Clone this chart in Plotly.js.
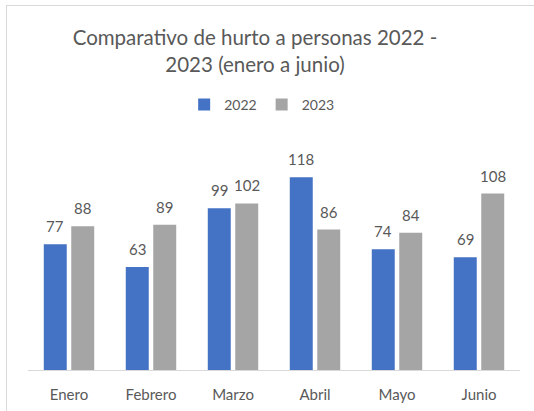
<!DOCTYPE html>
<html>
<head>
<meta charset="utf-8">
<script src="https://cdn.plot.ly/plotly-3.0.1.min.js"></script>
<style>
html,body{margin:0;padding:0;background:#fff;overflow:hidden;}
#chart{position:absolute;left:0;top:0;width:534px;height:411px;}
#frame{position:absolute;left:6px;top:5px;width:600px;height:500px;border-left:1.5px solid #d9d9d9;border-top:1.5px solid #d9d9d9;pointer-events:none;}
</style>
</head>
<body>
<div id="chart"></div>
<div id="frame"></div>
<script>
const months = ["Enero", "Febrero", "Marzo", "Abril", "Mayo", "Junio"];
const values2022 = [77, 63, 99, 118, 74, 69];
const values2023 = [88, 89, 102, 86, 84, 108];
const seriesNames = ["2022", "2023"];
const titleText = "Comparativo de hurto a personas 2022 -<br>2023 (enero a junio)";

const fontFam = "Lato, 'Open Sans', sans-serif";
const textColor = "#595959";
const colors = ["#4472C4", "#A5A5A5"];

const traces = [
  {type: "bar", name: seriesNames[0], x: months, y: values2022, marker: {color: colors[0]}, hoverinfo: "none"},
  {type: "bar", name: seriesNames[1], x: months, y: values2023, marker: {color: colors[1]}, hoverinfo: "none"}
];

const annotations = [];
[values2022, values2023].forEach((vals, s) => {
  vals.forEach((v, i) => {
    annotations.push({
      x: months[i], y: v, xref: "x", yref: "y",
      text: String(v), showarrow: false,
      xshift: s === 0 ? -13.75 : 13.75, yshift: 18,
      yanchor: "middle", xanchor: "center",
      font: {family: fontFam, size: 15, color: textColor}
    });
  });
});

const layout = {
  width: 534, height: 411,
  margin: {l: 28, r: 14, t: 141, b: 41, pad: 0},
  paper_bgcolor: "#fff", plot_bgcolor: "#fff",
  title: {
    text: titleText,
    x: 0.4775, xref: "container", xanchor: "center",
    y: 1 - 45/411, yref: "container", yanchor: "middle",
    font: {family: fontFam, size: 20.5, color: textColor}
  },
  showlegend: true,
  legend: {
    orientation: "h", x: 0.49, xanchor: "center", y: 1 - 105/411, yanchor: "middle",
    xref: "container", yref: "container",
    font: {family: fontFam, size: 14, color: textColor},
    itemwidth: 30
  },
  barmode: "group",
  bargap: 0.33,
  bargroupgap: 0.164,
  xaxis: {
    showgrid: false, zeroline: false, showline: true, linecolor: "#d9d9d9", linewidth: 1,
    ticks: "", ticklabelstandoff: 11,
    tickfont: {family: fontFam, size: 15, color: textColor}
  },
  yaxis: {
    range: [0, 140.2], showgrid: false, zeroline: false, showticklabels: false, ticks: "", showline: false
  },
  annotations: annotations
};

Plotly.newPlot("chart", traces, layout, {displayModeBar: false, staticPlot: true});
</script>
</body>
</html>
